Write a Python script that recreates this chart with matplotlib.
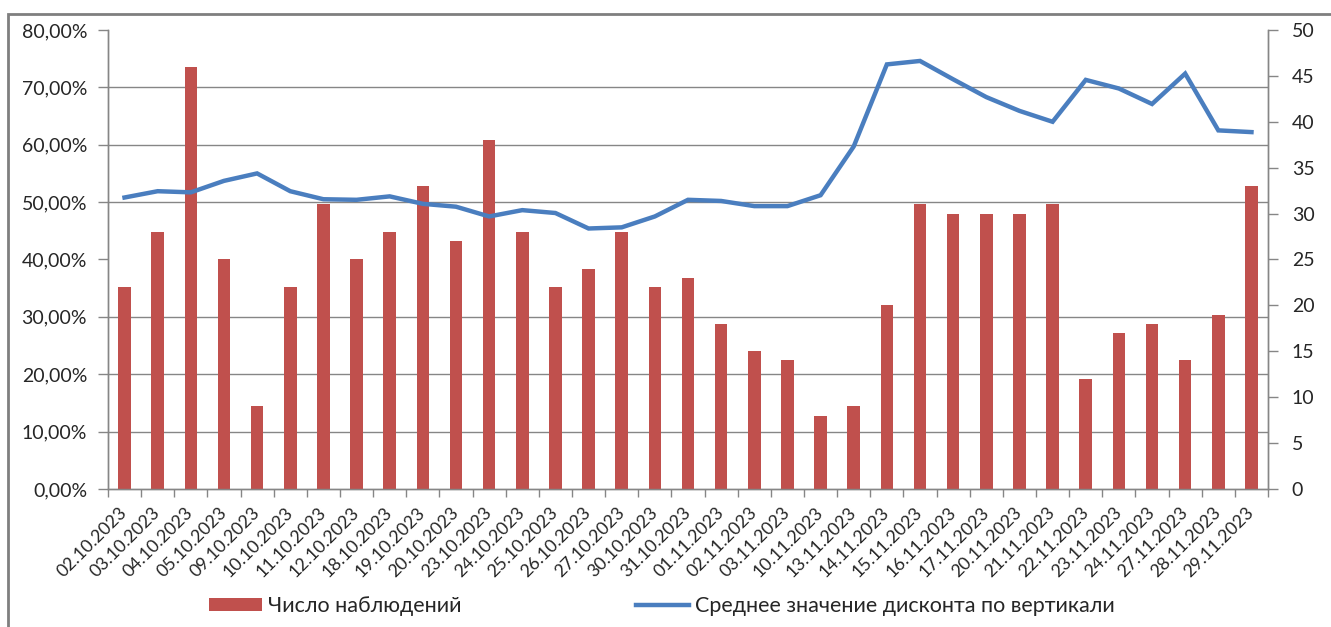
import matplotlib.pyplot as plt
import matplotlib.ticker as mticker
from matplotlib.patches import Rectangle
import numpy as np

dates = ["02.10.2023", "03.10.2023", "04.10.2023", "05.10.2023", "09.10.2023",
         "10.10.2023", "11.10.2023", "12.10.2023", "18.10.2023", "19.10.2023",
         "20.10.2023", "23.10.2023", "24.10.2023", "25.10.2023", "26.10.2023",
         "27.10.2023", "30.10.2023", "31.10.2023", "01.11.2023", "02.11.2023",
         "03.11.2023", "10.11.2023", "13.11.2023", "14.11.2023", "15.11.2023",
         "16.11.2023", "17.11.2023", "20.11.2023", "21.11.2023", "22.11.2023",
         "23.11.2023", "24.11.2023", "27.11.2023", "28.11.2023", "29.11.2023"]

# число наблюдений (правая ось)
counts = [22, 28, 46, 25, 9, 22, 31, 25, 28, 33,
          27, 38, 28, 22, 24, 28, 22, 23, 18, 15,
          14, 8, 9, 20, 31, 30, 30, 30, 31, 12,
          17, 18, 14, 19, 33]

# среднее значение дисконта, % (левая ось)
discount = [50.8, 51.9, 51.7, 53.7, 55.0, 51.9, 50.5, 50.4, 51.0, 49.7,
            49.2, 47.5, 48.6, 48.1, 45.4, 45.6, 47.5, 50.4, 50.2, 49.3,
            49.3, 51.2, 59.7, 74.0, 74.6, 71.4, 68.3, 65.9, 64.0, 71.3,
            69.8, 67.1, 72.4, 62.5, 62.2]

plt.rcParams['font.family'] = ['Lato', 'DejaVu Sans']

bar_color = '#C0504D'
line_color = '#4A7EBF'
axis_gray = '#868686'
text_color = '#262626'

fig = plt.figure(figsize=(13.31, 6.27), dpi=100)
ax = fig.add_axes([0.0811, 0.2201, 0.8716, 0.7321])
ax2 = ax.twinx()

x = np.arange(len(dates))

# bars on the right axis, line on the left axis drawn above them
ax2.bar(x, counts, width=0.38, color=bar_color, zorder=3,
        label='Число наблюдений')
ax.plot(x, discount, color=line_color, lw=3.2, solid_joinstyle='miter',
        label='Среднее значение дисконта по вертикали')
ax.set_zorder(ax2.get_zorder() + 1)
ax.patch.set_visible(False)

ax.set_xlim(-0.5, len(dates) - 0.5)
ax.set_ylim(0, 80)
ax2.set_ylim(0, 50)

ax.yaxis.set_major_locator(mticker.MultipleLocator(10))
ax.yaxis.set_major_formatter(mticker.FuncFormatter(
    lambda v, p: f"{v:.2f}%".replace('.', ',')))
ax2.yaxis.set_major_locator(mticker.MultipleLocator(5))

# gridlines sit behind the bars, at the percent ticks
ax2.yaxis.set_minor_locator(mticker.FixedLocator(np.arange(0, 50.01, 6.25)))
ax2.grid(which='minor', axis='y', color=axis_gray, lw=1.0, zorder=0)
ax2.tick_params(axis='y', which='minor', length=0)

# category ticks between bars, labels at bar centres
ax.set_xticks(np.arange(-0.5, len(dates), 1.0))
ax.set_xticklabels([])
ax.set_xticks(x, minor=True)
ax.set_xticklabels(dates, minor=True, rotation=45, ha='right',
                   va='center', rotation_mode='anchor')
ax.tick_params(axis='x', which='major', length=6, color=axis_gray, width=1)
ax.tick_params(axis='x', which='minor', length=0, pad=15, labelsize=12.8,
               labelcolor=text_color)
ax.tick_params(axis='y', length=7, color=axis_gray, width=1, pad=8,
               labelsize=14, labelcolor=text_color)
ax2.tick_params(axis='y', which='major', length=7, color=axis_gray, width=1,
                pad=10, labelsize=14, labelcolor=text_color)

for a in (ax, ax2):
    for s in a.spines.values():
        s.set_color(axis_gray)
        s.set_linewidth(1.0)
    a.spines['top'].set_visible(False)

# outer chart frame (cropped on the right and bottom)
fig.patches.append(Rectangle((8 / 1331, -0.1), 1.2, (613 / 627) + 0.1,
                             transform=fig.transFigure, fill=False,
                             edgecolor='#7F7F7F', lw=2))

h1, l1 = ax2.get_legend_handles_labels()
h2, l2 = ax.get_legend_handles_labels()
fig.legend(h1 + h2, l1 + l2, loc='center', bbox_to_anchor=(0.497, 0.034),
           ncol=2, frameon=False, fontsize=15.5, handlelength=2.46,
           handleheight=0.56, handletextpad=0.28, columnspacing=8.1,
           labelcolor=text_color)

fig.savefig('out.png', dpi=100)
